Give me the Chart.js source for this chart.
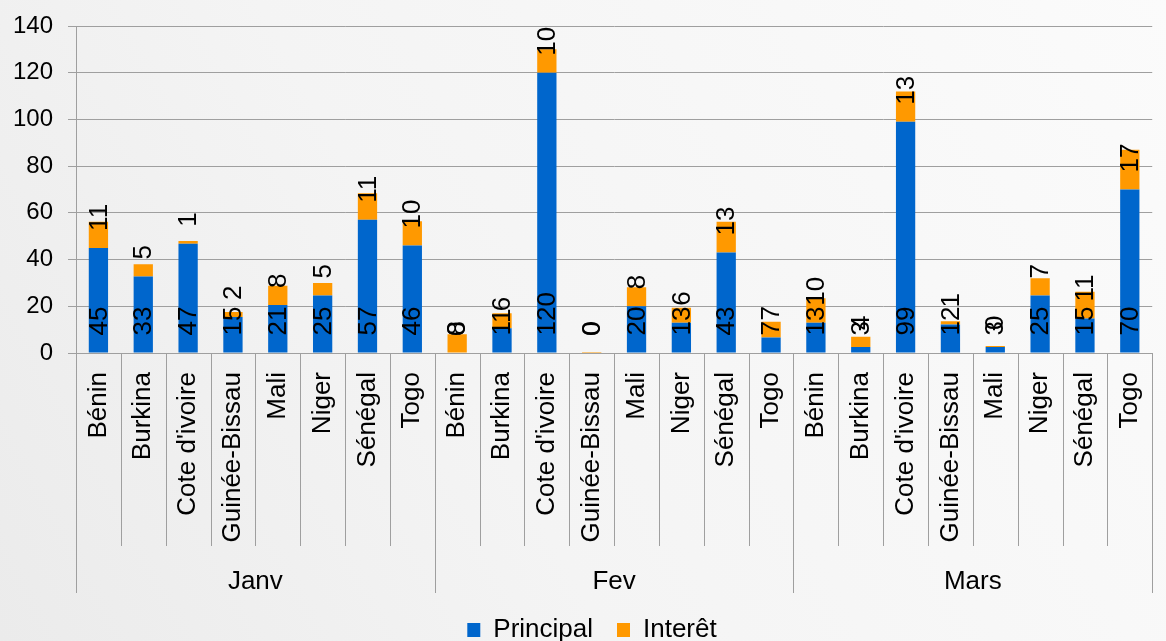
<!DOCTYPE html>
<html>
<head>
<meta charset="utf-8">
<script src="https://cdn.jsdelivr.net/npm/chart.js@4"></script>
<style>
  html, body { margin: 0; padding: 0; overflow: hidden; background: #f6f6f6; }
  #wrap { width: 1172px; height: 641px; }
</style>
</head>
<body>
<div id="wrap"><canvas id="chart"></canvas></div>
<script>
// Données
const months = ['Janv', 'Fev', 'Mars'];
const countries = ['Bénin', 'Burkina', "Cote d'ivoire", 'Guinée-Bissau', 'Mali', 'Niger', 'Sénégal', 'Togo'];
const principal = [45, 32.8, 46.8, 15.4, 20.6, 24.6, 57, 46,
                   0, 10.6, 120, 0, 20, 13, 43, 6.6,
                   13, 2.6, 99, 12.2, 2.6, 24.6, 14.8, 70];
const interet = [11.2, 5.2, 1.2, 2.2, 8.2, 5.4, 11.4, 10.4,
                 8, 6.4, 10, 0.4, 8.2, 6.4, 13.2, 6.8,
                 10.4, 4.4, 13, 1.4, 0.4, 7.4, 11.4, 17];
const yTicks = [0, 20, 40, 60, 80, 100, 120, 140];

const labels = months.flatMap(() => countries);
const FONT = "'Liberation Sans', Arial, sans-serif";
const GRID = '#9f9f9f';

// fond
const bgPlugin = {
    id: 'bg',
    beforeDraw(chart) {
        const { ctx, width, height } = chart;
        const g = ctx.createLinearGradient(width, 0, 0, height);
        g.addColorStop(0, '#fbfbfb');
        g.addColorStop(0.6, '#f4f4f4');
        g.addColorStop(1, '#ebebeb');
        ctx.save();
        ctx.fillStyle = g;
        ctx.fillRect(0, 0, width, height);
        ctx.restore();
    }
};

// séparateurs de l'axe des catégories
const separators = {
    id: 'separators',
    afterDraw(chart) {
        const x = chart.scales.x, x2 = chart.scales.x2;
        const n = labels.length;
        const step = (x.getPixelForValue(1) - x.getPixelForValue(0));
        const ctx = chart.ctx;
        ctx.save();
        ctx.strokeStyle = GRID;
        ctx.lineWidth = 1;
        for (let i = 0; i <= n; i++) {
            const px = Math.round(x.getPixelForValue(0) - step / 2 + i * step) + 0.5;
            const bottom = (i % countries.length === 0) ? x2.bottom : x.bottom;
            ctx.beginPath();
            ctx.moveTo(px, x.top);
            ctx.lineTo(px, bottom);
            ctx.stroke();
        }
        ctx.restore();
    }
};

// étiquettes verticales (à la base de chaque segment)
const barLabels = {
    id: 'barLabels',
    afterDatasetsDraw(chart) {
        const ctx = chart.ctx;
        ctx.save();
        ctx.font = '26px ' + FONT;
        ctx.fillStyle = '#000';
        ctx.textAlign = 'left';
        ctx.textBaseline = 'middle';
        chart.data.datasets.forEach((ds, di) => {
            chart.getDatasetMeta(di).data.forEach((bar, i) => {
                const v = Math.round(ds.data[i]);
                ctx.save();
                ctx.translate(bar.x, bar.base - 17);
                ctx.rotate(-Math.PI / 2);
                ctx.fillText(String(v), 0, 1);
                ctx.restore();
            });
        });
        ctx.restore();
    }
};

new Chart(document.getElementById('chart'), {
    type: 'bar',
    data: {
        labels: labels,
        datasets: [
            { label: 'Principal', data: principal, backgroundColor: '#0066cc', barPercentage: 0.43, categoryPercentage: 1 },
            { label: 'Interêt', data: interet, backgroundColor: '#ff9900', barPercentage: 0.43, categoryPercentage: 1 }
        ]
    },
    options: {
        responsive: true,
        maintainAspectRatio: false,
        animation: false,
        layout: { padding: { left: 12, top: 26, right: 0, bottom: -12 } },
        plugins: {
            legend: {
                position: 'bottom',
                labels: {
                    boxWidth: 13, boxHeight: 14, padding: 24,
                    color: '#000', font: { family: FONT, size: 26 }
                }
            },
            tooltip: { enabled: false }
        },
        scales: {
            x: {
                stacked: true,
                grid: { display: false },
                border: { display: false },
                ticks: {
                    autoSkip: false, maxRotation: 90, minRotation: 90, padding: 11,
                    color: '#000', font: { family: FONT, size: 26 }
                },
                afterFit(scale) { scale.height = 193; }
            },
            x2: {
                type: 'category',
                labels: months,
                position: 'bottom',
                offset: true,
                grid: { display: false },
                border: { display: false },
                ticks: { padding: 12, maxRotation: 0, color: '#000', font: { family: FONT, size: 26 } },
                afterFit(scale) { scale.height = 47; }
            },
            y: {
                stacked: true,
                min: 0, max: 140,
                afterBuildTicks(scale) { scale.ticks = yTicks.map(v => ({ value: v })); },
                grid: { color: GRID, tickLength: 8, lineWidth: 1 },
                border: { color: GRID },
                ticks: { padding: 15, color: '#000', font: { family: FONT, size: 24 } },
                afterFit(scale) {
                    scale.width = 64;
                    scale.paddingTop = 0;
                    scale.paddingBottom = 0;
                }
            }
        }
    },
    plugins: [bgPlugin, separators, barLabels]
});
</script>
</body>
</html>
